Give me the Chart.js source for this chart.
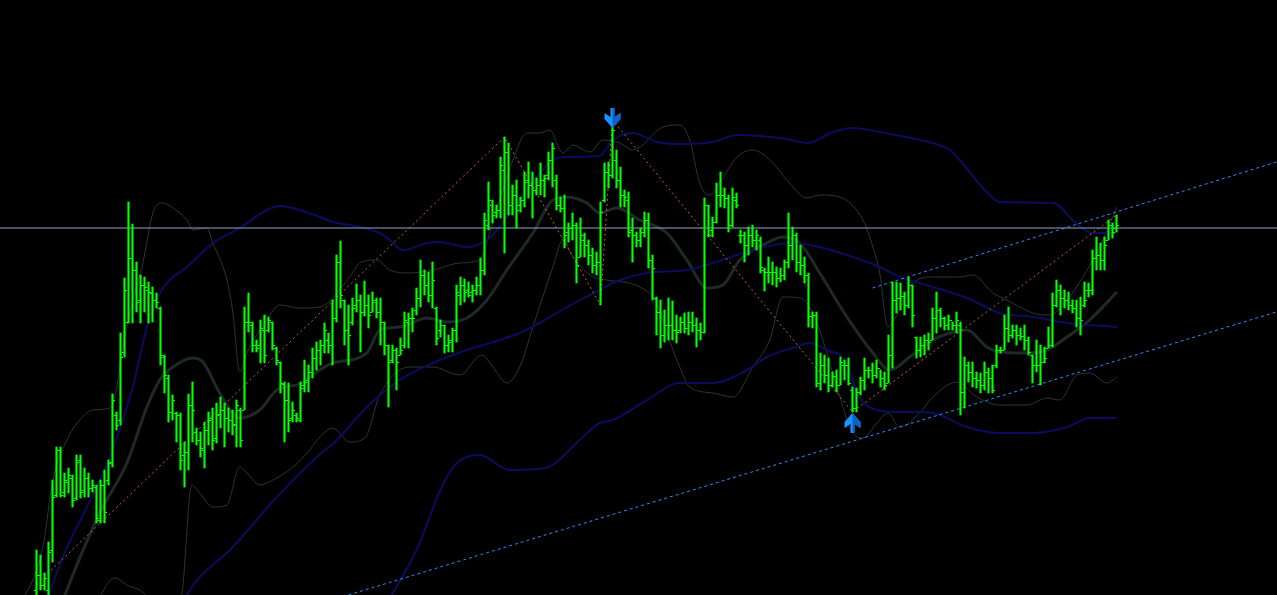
<!DOCTYPE html>
<html>
<head>
<meta charset="utf-8">
<script src="https://cdn.jsdelivr.net/npm/chart.js@4.4.0/dist/chart.umd.min.js"></script>
<style>
html, body { margin: 0; padding: 0; background: #000; }
#wrap { width: 1277px; height: 595px; position: relative; }
</style>
</head>
<body>
<div id="wrap"><canvas id="myChart"></canvas></div>
<script>
// OHLC, one value per bar (bar 0 = leftmost visible bar)
var opens = [10,25,15,10,50,105,150,108,118,122, 102,140,110,122,112,113,80,115,120,138,
    185,180,248,278,342,330,300,315,310,307, 300,292,243,222,188,187,185,145,148,195,
    168,160,150,170,182,162,186,190,182,180, 176,190,190,278,275,255,255,270,270,278,
    252,238,216,200,182,185,180,215,220,228, 242,250,255,260,255,282,338,300,270,278,
    295,300,288,295,288,300,288,278,255,240, 250,245,255,278,282,290,302,325,315,305,
    292,270,275,255,260,270,305,315,310,308, 310,315,330,375,395,388,390,430,448,395,
    405,395,400,420,415,410,415,420,425,440, 420,395,392,368,372,375,343,360,355,345,
    335,338,400,428,425,440,420,405,400,370, 365,360,368,380,340,302,288,265,275,275,
    270,270,278,272,278,275,270,268,395,370, 378,405,405,402,375,400,365,365,355,365,
    360,360,330,328,328,328,322,325,338,355, 365,338,335,325,284,285,217,235,225,215,
    224,215,235,235,210,192,208,220,230,230, 225,232,222,217,245,300,302,304,295,315,
    263,250,255,260,260,282,290,282,275,280, 275,275,208,235,228,222,220,215,228,222,
    235,250,250,272,265,270,265,264,260,245, 235,235,238,252,255,295,310,302,300,295,
    292,282,295,310,310,342,345,340,360,375,372]
var highs = [50,45,27,58,120,153,153,127,132,125, 145,145,132,127,120,115,120,130,140,206,
    188,267,322,398,376,338,325,323,318,313, 307,293,245,225,205,188,187,158,206,218,
    172,168,178,188,192,197,203,197,192,190, 200,192,293,307,278,260,280,285,283,278,
    253,238,218,217,198,187,218,240,235,252, 258,260,277,267,300,345,359,300,295,302,
    316,305,319,305,308,302,302,278,255,255, 252,262,288,287,292,312,340,330,328,338,
    293,280,275,265,272,315,323,321,318,315, 323,342,387,418,400,395,443,463,457,415,
    420,403,428,438,428,422,437,425,448,457, 425,403,405,377,387,377,382,367,360,352,
    348,398,437,438,480,450,433,410,408,382, 368,372,388,387,345,303,300,290,302,299,
    285,283,287,288,288,282,277,402,395,383, 417,428,412,405,412,407,370,368,373,375,
    370,363,332,343,338,333,332,340,387,373, 367,355,343,327,288,288,247,245,242,228,
    230,243,240,242,213,212,223,242,233,237, 240,230,228,265,318,318,317,308,323,315,
    263,263,265,267,292,308,292,283,285,278, 288,278,243,238,238,228,227,238,232,235,
    255,253,285,293,275,275,272,275,263,245, 260,255,253,273,307,320,315,310,308,300,
    300,303,318,317,350,363,357,363,380,377,385]
var lows = [0,10,10,0,38,103,103,103,107,93, 100,102,103,103,108,77,77,77,115,133,
    170,175,243,277,277,288,277,288,277,278, 292,235,207,178,180,158,130,113,130,158,
    155,143,132,155,150,157,172,153,168,165, 153,153,190,268,248,248,237,237,268,250,
    235,207,158,168,178,178,178,208,208,222, 230,235,247,247,235,278,292,255,235,275,
    288,248,284,272,288,282,255,245,193,237, 210,245,252,252,268,285,293,305,298,292,
    255,263,247,248,248,258,295,298,303,298, 305,305,325,370,377,382,382,347,385,385,
    372,388,393,402,382,405,405,403,420,413, 390,388,352,358,360,317,343,343,335,327,
    325,295,398,412,422,412,393,393,363,338, 353,353,363,332,300,265,252,258,260,260,
    257,267,267,265,268,253,260,267,363,363, 377,393,392,368,373,392,357,338,345,353,
    350,327,309,317,315,313,318,320,332,340, 328,325,317,273,272,213,210,217,208,213,
    208,215,220,215,188,188,205,210,222,217, 222,213,210,217,232,287,290,285,292,273,
    242,243,245,250,260,267,273,270,270,270, 267,185,192,218,213,212,207,210,207,207,
    232,247,250,258,262,255,260,250,245,217, 228,215,237,252,253,293,285,292,290,287,
    273,265,293,303,305,330,330,330,360,362,368]
var closes = [25,15,22,48,103,150,105,120,125,100, 138,108,122,112,115,82,115,88,137,200,
    175,243,310,342,330,298,315,313,308,300, 298,245,225,188,200,185,140,148,195,190,
    160,152,170,180,160,185,190,182,180,175, 195,160,278,278,255,252,272,245,280,255,
    240,217,200,180,190,182,212,218,228,242, 250,255,270,255,282,338,305,270,265,292,
    300,288,295,285,298,288,278,255,238,250, 238,250,280,282,282,302,325,315,305,320,
    262,275,255,258,270,308,315,308,305,310, 315,330,380,400,385,390,435,448,395,405,
    390,400,418,415,410,415,420,422,440,452, 395,392,365,372,375,335,365,355,345,335,
    338,388,428,425,470,420,405,403,368,365, 360,368,380,340,332,288,265,275,275,270,
    268,278,272,278,275,270,268,395,365,378, 405,405,402,375,403,395,365,355,365,360,
    365,333,328,328,328,322,325,338,355,365, 338,335,325,284,285,217,235,225,215,224,
    215,238,235,217,192,208,220,230,230,225, 232,222,215,245,300,302,304,295,315,285,
    250,255,260,258,282,290,282,275,280,275, 280,208,235,228,222,220,215,228,222,210,
    250,250,272,265,270,265,264,260,248,235, 235,238,242,255,295,310,302,300,295,292,
    282,280,300,310,342,345,340,355,375,368,375]

// indicator lines, [bar, price]
var longUpper = [[1,-30],[3.3,7],[18.3,143],[24.1,213],[27.6,273],[30.1,300],[32.6,317],[37.6,333],[44.1,357],[50.8,372],
    [57.6,390],[60.8,394],[65.8,390],[70.8,383],[74.1,378],[80.8,373],[85.8,367],[88.3,360],[91.6,350],[97.6,357],
    [100.8,358],[107.6,353],[112.6,360],[115.8,373],[122.6,410],[129.1,440],[132.6,443],[140.8,444],[144.1,460],[149.1,467],
    [155.1,458],[160.8,456],[169.1,458],[175.1,465],[187.6,461],[192.6,457],[199.1,468],[204.1,472],[210.8,468],[220.8,460],
    [228.3,450],[230.8,440],[237.1,410],[240.8,398],[254.1,397],[259.8,377],[264.1,367],[269.8,367]]
var longMid = [[33,-40],[37.6,5],[49.1,53],[60.1,103],[70.1,143],[75.1,160],[82.6,193],[90.8,220],[99.1,237],[107.6,250],
    [115.8,260],[120.8,267],[125.8,277],[132.6,293],[140.8,310],[144.1,317],[152.6,327],[162.6,330],[169.1,337],[177.6,348],
    [188.3,357],[195.8,353],[202.6,345],[210.8,333],[215.8,323],[224.1,313],[232.6,302],[240.8,287],[249.1,283],[257.6,277],[270.1,273]]
var longLower = [[85,-20],[95,50],[101,110],[104.6,135],[110.8,145],[118.3,130],[127.1,132],[136.6,163],[140.8,177],[144.1,180],
    [152.6,200],[160.8,217],[169.1,217],[177.6,230],[182.6,243],[189.1,252],[193.3,257],[197.6,250],[202.6,237],[205.1,207],
    [210.1,190],[215.8,188],[224.1,187],[232.6,173],[240.8,167],[249.1,167],[257.6,173],[263.3,182],[270.1,182]]
var bandMid = [[4,-30],[7.1,5],[15.8,87],[22.6,137],[27.6,193],[30.8,220],[34.1,233],[39.1,242],[41.6,238],[45.8,207],
    [50.8,182],[55.8,190],[60.1,210],[65.8,216],[70.8,230],[74.1,237],[82.6,247],[85.8,270],[90.8,273],[97.6,282],
    [102.6,278],[107.6,282],[112.6,300],[117.6,330],[124.1,367],[129.1,400],[132.6,403],[137.6,397],[140.8,387],[145.1,392],
    [150.8,380],[157.6,367],[162.6,340],[167.6,312],[171.6,315],[175.8,340],[182.6,357],[186.6,363],[190.8,357],[195.8,327],
    [202.6,283],[209.1,247],[213.3,230],[218.3,243],[224.1,260],[228.3,267],[232.6,270],[237.6,253],[240.8,248],[247.6,247],
    [252.6,250],[257.6,263],[263.3,280],[270.1,308]]
var bandUpper = [[-2.9,5],[-0.9,20],[1.6,53],[4.1,120],[7.6,160],[10.8,180],[14.1,190],[18.3,192],[19.6,203],[21.6,253],
    [24.1,300],[26.6,337],[29.1,387],[31.6,397],[34.1,392],[37.6,380],[39.1,370],[42.6,372],[44.1,357],[47.6,320],
    [49.1,287],[50.8,228],[52.6,247],[57.6,280],[60.8,295],[65.8,292],[70.8,293],[78.3,323],[80.8,337],[85.1,340],
    [88.3,330],[93.3,327],[99.1,330],[105.8,337],[110.8,340],[113.3,367],[115.8,400],[119.1,440],[122.6,467],[125.8,467],
    [128.3,470],[131.6,447],[134.1,455],[138.3,448],[141.6,460],[145.8,457],[149.1,450],[156.6,473],[160.8,475],[163.3,460],
    [165.8,417],[168.3,405],[170.8,417],[175.1,443],[179.1,450],[184.1,437],[187.6,420],[192.6,402],[195.8,405],[200.8,403],
    [206.6,380],[209.1,353],[210.8,327],[212.8,273],[215.8,290],[219.1,317],[224.1,323],[230.8,323],[234.1,325],[239.1,307],
    [242.6,300],[249.1,287],[253.3,285],[257.6,300],[261.6,323],[265.8,353],[270.1,393]]
var bandLower = [[14,-10],[19.6,22],[22.6,15],[27.6,3],[31,-30],[36.3,5],[38.8,115],[40.8,107],[44.1,93],[47.6,95],
    [50.8,133],[52.6,127],[55.8,115],[59.1,120],[64.1,133],[68.3,150],[70.8,163],[74.1,172],[78.3,158],[82.1,162],
    [85.8,205],[93.3,233],[99.1,233],[105.8,225],[111.3,245],[114.1,233],[117.6,217],[120.8,233],[124.1,273],[129.1,333],
    [131.6,360],[134.1,343],[139.1,323],[142.6,320],[150.8,313],[155.1,297],[157.6,267],[160.8,233],[163.3,213],[169.1,207],
    [174.1,203],[179.1,233],[183.3,260],[186.6,303],[190.8,302],[194.1,287],[197.6,247],[200.1,213],[204.1,167],[206.6,162],
    [210.1,177],[212.8,187],[215.8,173],[220.8,187],[224.1,203],[230.1,218],[235.1,203],[240.8,195],[247.6,195],[252.6,202],
    [255.8,200],[260.1,225],[263.3,227],[267.6,217],[270.1,223]]

// zigzag swing points, channel lines, level line, signal arrows
var zigzag = [[0,16],[117,463],[141,295],[144,480],[204,188],[270,385]]
var channelTop = [[209,312],[310,438]]
var channelBottom = [[78,5],[310,288]]
var levelPrice = 372
var sellSignals = [[144,472]]
var buySignals = [[204,187]]

function pts(arr) {
    return arr.map(function (p) { return { x: p[0], y: p[1] } })
}

// arrow glyph, tip in the middle of the image
function makeArrow(up) {
    var c = document.createElement('canvas')
    c.width = 19; c.height = 44
    var g = c.getContext('2d')
    if (up) { g.translate(0.5, 42); g.scale(1, -1) } else { g.translate(0.5, 2) }
    g.fillStyle = '#1e90ff'
    g.beginPath()
    g.moveTo(7, 0); g.lineTo(11, 0); g.lineTo(11, 9); g.lineTo(17, 5); g.lineTo(17, 11)
    g.lineTo(9, 20); g.lineTo(1, 11); g.lineTo(1, 5); g.lineTo(7, 9)
    g.closePath(); g.fill()
    g.fillStyle = '#0d64c8'
    g.beginPath()
    g.moveTo(9, 0); g.lineTo(11, 0); g.lineTo(11, 9); g.lineTo(17, 5); g.lineTo(17, 11); g.lineTo(9, 20)
    g.closePath(); g.fill()
    return c
}

// little open / close ticks on each bar
const ohlcTicks = {
    id: 'ohlcTicks',
    afterDatasetsDraw(chart) {
        var xs = chart.scales.x, ys = chart.scales.y, ctx = chart.ctx
        ctx.save()
        ctx.fillStyle = '#00ff00'
        for (var i = 0; i < opens.length; i++) {
            var x = xs.getPixelForValue(i)
            ctx.fillRect(x - 2.5, Math.round(ys.getPixelForValue(opens[i])), 2, 1)
            ctx.fillRect(x + 0.5, Math.round(ys.getPixelForValue(closes[i])), 2, 1)
        }
        ctx.restore()
    }
}

function curve(data, color, width, order) {
    return {
        type: 'line', data: pts(data), borderColor: color, borderWidth: width,
        pointRadius: 0, cubicInterpolationMode: 'monotone', fill: false, order: order
    }
}

const data = {
    datasets: [
        curve(bandUpper, '#2c3533', 1, 5),
        curve(bandLower, '#2c3533', 1, 5),
        curve(bandMid, '#1f2a28', 3, 4),
        curve(longUpper, '#0c0c5e', 2, 3),
        curve(longMid, '#0c0c5e', 2, 3),
        curve(longLower, '#0c0c5e', 2, 3),
        {
            type: 'line', data: [{ x: -10, y: levelPrice }, { x: 311, y: levelPrice }],
            borderColor: '#93a4c4', borderWidth: 1, pointRadius: 0, order: 2
        },
        {
            type: 'line', data: pts(zigzag), borderColor: '#c8642d', borderWidth: 1,
            borderDash: [2, 3], pointRadius: 0, tension: 0, order: 2
        },
        {
            type: 'line', data: pts(channelTop), borderColor: '#2b8cff', borderWidth: 1,
            borderDash: [3, 3], pointRadius: 0, order: 2
        },
        {
            type: 'line', data: pts(channelBottom), borderColor: '#2b8cff', borderWidth: 1,
            borderDash: [3, 3], pointRadius: 0, order: 2
        },
        {
            type: 'bar',
            data: highs.map(function (h, i) { return { x: i, y: [lows[i], h] } }),
            backgroundColor: '#00ff00', borderWidth: 0, barThickness: 1.5, order: 1
        },
        {
            type: 'line', data: pts(sellSignals), showLine: false,
            pointStyle: makeArrow(false), pointRadius: 10, order: 0
        },
        {
            type: 'line', data: pts(buySignals), showLine: false,
            pointStyle: makeArrow(true), pointRadius: 10, order: 0
        }
    ]
}

const opcions = {
    responsive: true,
    maintainAspectRatio: false,
    animation: false,
    events: [],
    layout: { padding: 0, autoPadding: false },
    plugins: { legend: { display: false }, tooltip: { enabled: false } },
    scales: {
        x: { type: 'linear', display: false, min: -9.125, max: 310.125, offset: false },
        y: { type: 'linear', display: false, min: 5, max: 600 }
    }
}

var chart = new Chart(document.getElementById('myChart'), {
    type: 'line',
    data: data,
    options: opcions,
    plugins: [ohlcTicks]
})
</script>
</body>
</html>
